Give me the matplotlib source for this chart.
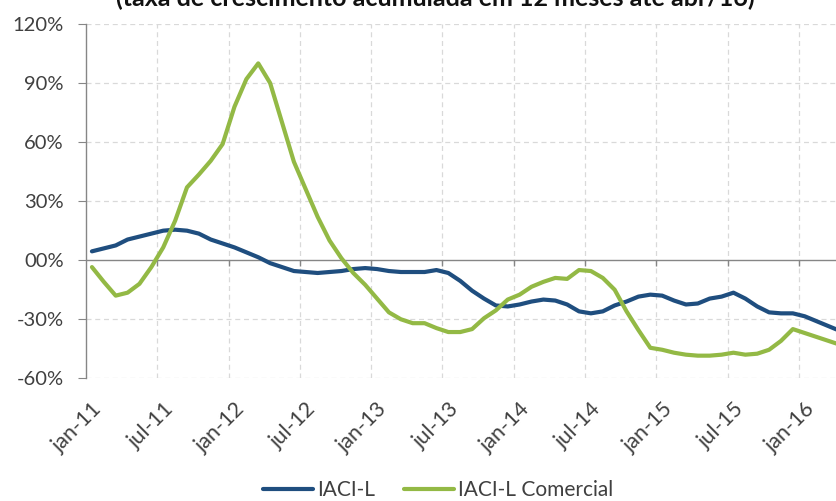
import numpy as np
import matplotlib
matplotlib.use("Agg")
import matplotlib.pyplot as plt

# monthly series jan-11 .. apr-16 (% growth, 12 months accumulated)
months = ["jan-11", "jul-11", "jan-12", "jul-12", "jan-13", "jul-13",
          "jan-14", "jul-14", "jan-15", "jul-15", "jan-16"]

iaci_l = [4.5, 6, 7.5, 10.5, 12, 13.5, 15, 15.5, 15, 13.5, 10.5, 8.5,
          6.5, 4, 1.5, -1.5, -3.5, -5.5, -6, -6.5, -6, -5.5, -4.5, -4,
          -4.5, -5.5, -6, -6, -6, -5, -6.5, -10.5, -15.5, -19.5, -23, -23.5,
          -22.5, -21, -20, -20.5, -22.5, -26, -27, -26, -23, -21, -18.5, -17.5,
          -18, -20.5, -22.5, -22, -19.5, -18.5, -16.5, -19.5, -23.5, -26.5, -27, -27,
          -28.5, -31, -33.5, -36]

iaci_l_com = [-3.5, -11, -18, -16.5, -12, -3.5, 6.5, 20, 37, 43.5, 50.5, 59,
              78, 92, 100, 90, 70, 50, 36, 22, 10, 1, -6.5, -12.5,
              -19.5, -26.5, -30, -32, -32, -34.5, -36.5, -36.5, -35, -29.5, -25.5, -20,
              -17.5, -13.5, -11, -9, -9.5, -5, -5.5, -9, -15, -26, -35.5, -44.5,
              -45.5, -47, -48, -48.5, -48.5, -48, -47, -48, -47.5, -45.5, -41, -35,
              -37, -39, -41, -43]

title = "(taxa de crescimento acumulada em 12 meses até abr/16)"

plt.rcParams['font.family'] = ['Lato', 'DejaVu Sans']
txt_col = "#404040"
grid_col = "#d9d9d9"
axis_col = "#868686"

fig = plt.figure(figsize=(8.36, 5.01), dpi=100)
# axes runs a bit past the right edge, the original picture is cropped there
ax = fig.add_axes([86 / 836, 1 - 378.3 / 501, 64 * 11.88 / 836, 354.3 / 501])

x = np.arange(len(iaci_l))
ax.plot(x, iaci_l, color="#1f4e7f", lw=3.0, label="IACI-L", solid_capstyle="round")
ax.plot(x, iaci_l_com, color="#93b945", lw=3.0, label="IACI-L Comercial", solid_capstyle="round")

ax.set_xlim(-0.5, len(x) - 0.5)
ax.set_ylim(-60, 120)

yt = np.arange(-60, 121, 30)
ax.set_yticks(yt)
ax.set_yticklabels(["%d%%" % v if v != 0 else "00%" for v in yt])

ax.set_xticks(np.arange(0, len(x), 6))
ax.set_xticklabels(months, rotation=45, ha="right", rotation_mode="anchor")
bounds = np.arange(5.5, len(x) - 1, 6)
ax.set_xticks(bounds, minor=True)

ax.tick_params(axis="x", which="both", length=0, pad=15, labelsize=15.5, colors=txt_col)
ax.tick_params(axis="y", length=6, width=0.8, color=axis_col, pad=10, labelsize=14.5,
               labelcolor=txt_col)

# grid
for v in yt:
    if v != 0:
        ax.axhline(v, color=grid_col, lw=0.9, ls=(0, (4, 3)), zorder=0)
for b in bounds:
    ax.axvline(b, color=grid_col, lw=0.9, ls=(0, (4, 3)), zorder=0)

# category axis crossing at 0
ax.axhline(0, color=axis_col, lw=1.0, zorder=1)
ax.vlines(bounds, -2.8, 0, color=axis_col, lw=1.0, zorder=1)

for s in ["top", "right", "bottom"]:
    ax.spines[s].set_visible(False)
ax.spines["left"].set_color(axis_col)
ax.spines["left"].set_linewidth(1.0)

fig.text(435 / 836, 1 - 6.5 / 501, title, ha="center", va="baseline",
         fontsize=18, fontweight="bold", color="#111111")

fig.legend(loc="center", bbox_to_anchor=(438 / 836, 1 - 490 / 501), ncol=2,
           frameon=False, fontsize=15, handlelength=2.4, handletextpad=0.2,
           columnspacing=1.4, labelcolor=txt_col, borderpad=0.1)

fig.savefig("out.png", dpi=100)
